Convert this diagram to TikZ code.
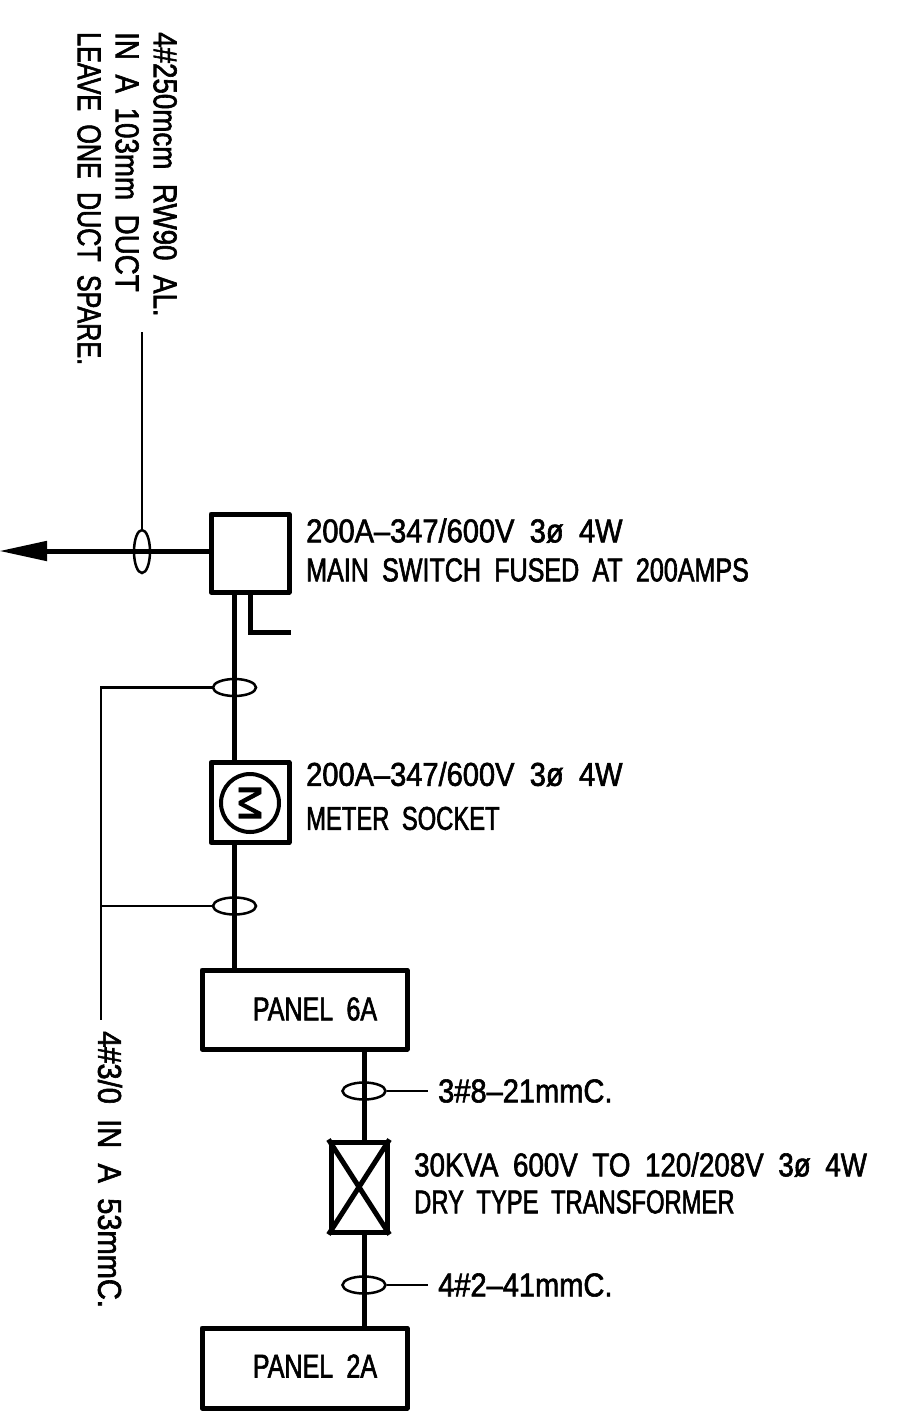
\documentclass[tikz,border=0pt]{standalone}
\usepackage{fontspec}
\usetikzlibrary{shapes.geometric, arrows.meta, positioning, calc}
\newfontfamily\cadfont[FakeStretch=0.76,WordSpace=1.9,FakeBold=1.8]{Liberation Sans}
\newfontfamily\cadwide[FakeStretch=0.88,WordSpace=1.9,FakeBold=1.8]{Liberation Sans}
\newfontfamily\cadmid[FakeStretch=0.84,WordSpace=1.9,FakeBold=1.8]{Liberation Sans}
\newfontfamily\cadslim[FakeStretch=0.72,WordSpace=1.9,FakeBold=1.8]{Liberation Sans}
\begin{document}
\begin{tikzpicture}[
    x=1pt, y=-1pt,
    boxnode/.style={draw, line width=5pt, inner sep=0pt, line join=round},
    conduit/.style={draw, ellipse, line width=2.5pt, inner sep=0pt},
    hconduit/.style={conduit, minimum width=43pt, minimum height=17pt},
    vconduit/.style={conduit, minimum width=16pt, minimum height=43pt},
    feeder/.style={line width=5pt},
    leader/.style={line width=2.5pt},
    cadtext/.style={font=\fontsize{33}{#1}\selectfont, align=left, anchor=west, inner sep=0pt},
    cadtext/.default=40
]
    \useasboundingbox (0,0) rectangle (900,1416);

    % Equipment
    \node[boxnode, minimum width=78pt, minimum height=78pt] (switch) at (250,553) {};
    \node[boxnode, minimum width=78pt, minimum height=80pt] (meter) at (250,802.5) {};
    \node[draw, circle, line width=4pt, minimum size=58pt, inner sep=0pt] (dial) at (250,803) {};
    \node[font=\cadslim\fontsize{46}{46}\selectfont, rotate=-90, xscale=1.35, yscale=0.7] (dialm) at (dial) {M};
    \node[boxnode, minimum width=205pt, minimum height=79pt] (panelsix) at (304.5,1009.5) {};
    \node[cadtext, anchor=center] (panelsixtext) at (315,1009) {\cadfont PANEL 6A};
    \node[boxnode, minimum width=56pt, minimum height=90pt] (xfmr) at (359,1187) {};
    \node[boxnode, minimum width=205pt, minimum height=80pt] (paneltwo) at (304.5,1368) {};
    \node[cadtext, anchor=center] (paneltwotext) at (315,1366) {\cadfont PANEL 2A};

    % Conduit ovals
    \node[vconduit] (ovalline) at (142,551.5) {};
    \node[hconduit] (ovaltop) at (234.5,687.5) {};
    \node[hconduit] (ovalmid) at (234.5,906) {};
    \node[hconduit] (ovalthree) at (364,1091) {};
    \node[hconduit] (ovalfour) at (364,1285) {};

    % Free ends
    \coordinate (utility) at (-1,551);
    \coordinate (linetop) at (142,332);
    \coordinate (groundend) at (291,632);
    \coordinate (riserbot) at (101,1020);
    \coordinate (leadthree) at (428,1091);
    \coordinate (leadfour) at (428,1285);

    % Feeders
    \draw[feeder, -{Triangle[length=48pt, width=19pt]}] (switch.west |- utility) -- (utility);
    \draw[feeder] (234,0 |- switch.south) -- (234,0 |- meter.north);
    \draw[feeder] (234,0 |- meter.south) -- (234,0 |- panelsix.north);
    \draw[feeder] (250,0 |- switch.south) |- (groundend);
    \draw[feeder] (364,0 |- panelsix.south) -- (xfmr.north -| 364,0);
    \draw[feeder] (364,0 |- xfmr.south) -- (364,0 |- paneltwo.north);
    \draw[feeder] (xfmr.north west) -- (xfmr.south east);
    \draw[feeder] (xfmr.north east) -- (xfmr.south west);

    % Leaders
    \draw[leader] (linetop) -- (ovalline.north);
    \draw[leader] (ovaltop.west) -| (riserbot);
    \draw[leader] (ovalmid.west) -- (riserbot |- ovalmid);
    \draw[leader] (ovalthree.east) -- (leadthree);
    \draw[leader] (ovalfour.east) -- (leadfour);

    % Labels
    \node[cadtext=39] (switchtext) at (306,550) {\cadwide 200A–347/600V 3ø 4W\\\cadfont MAIN SWITCH FUSED AT 200AMPS};
    \node[cadtext=44] (metertext) at (306,796) {\cadwide 200A–347/600V 3ø 4W\\\cadslim METER SOCKET};
    \node[cadtext=37] (xfmrtext) at (414,1183) {\cadmid 30KVA 600V TO 120/208V 3ø 4W\\\cadslim DRY TYPE TRANSFORMER};
    \node[cadtext] (threetext) at (438,1091) {\cadwide 3\#8–21mmC.};
    \node[cadtext] (fourtext) at (438,1285) {\cadwide 4\#2–41mmC.};
    \node[cadtext, rotate=-90] (risertext) at (110,1031) {\cadwide 4\#3/0 IN A 53mmC.};
    \node[cadtext=38, rotate=-90, anchor=north west] (linetext) at (177,32) {\cadmid 4\#250mcm RW90 AL.\\\cadmid IN A 103mm DUCT\\\cadfont LEAVE ONE DUCT SPARE.};
\end{tikzpicture}
\end{document}
